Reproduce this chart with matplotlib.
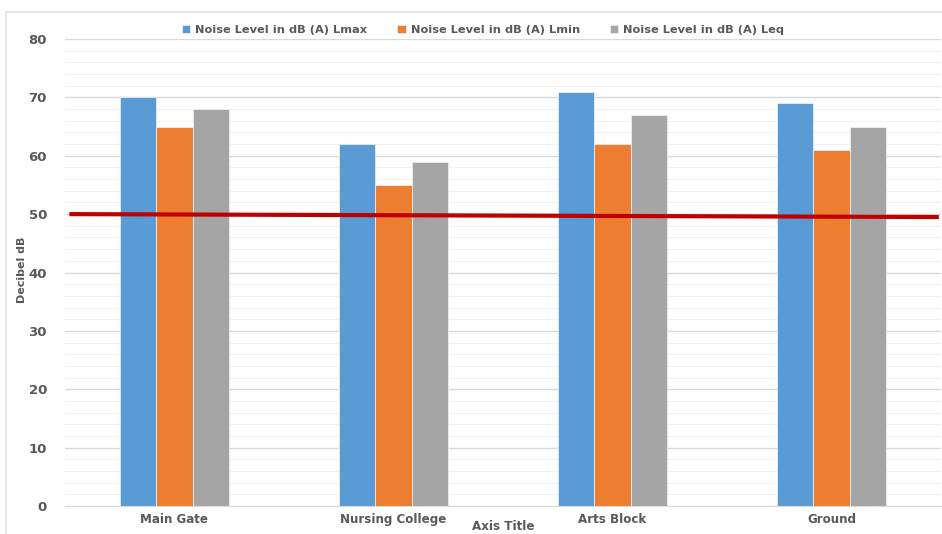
import matplotlib
matplotlib.use('Agg')
import matplotlib.pyplot as plt
import numpy as np
from matplotlib.patches import Rectangle

# noise survey data
sites = ["Main Gate", "Nursing College", "Arts Block", "Ground"]
lmax = [70, 62, 71, 69]
lmin = [65, 55, 62, 61]
leq = [68, 59, 67, 65]
series_names = ["Noise Level in dB (A) Lmax",
                "Noise Level in dB (A) Lmin",
                "Noise Level in dB (A) Leq"]
colors = ["#5B9BD5", "#ED7D31", "#A5A5A5"]

# permissible limit line (hand drawn, slightly slanted)
limit_x = [-0.48, 3.49]
limit_y = [50.0, 49.5]

TXT = "#595959"
plt.rcParams['font.family'] = 'DejaVu Sans'

fig = plt.figure(figsize=(9.42, 5.34), dpi=100)
ax = fig.add_axes([65/942, 1-506/534, 876/942, 467/534])

# chart frame
fig.patches.append(Rectangle((6/942, -0.1), 1.2, 1-12/534+0.1, transform=fig.transFigure,
                             fill=False, edgecolor="#E3E3E3", linewidth=1.2, zorder=0))

x = np.arange(len(sites))
w = 1/6
for i, (vals, name, c) in enumerate(zip([lmax, lmin, leq], series_names, colors)):
    ax.bar(x + (i-1)*w, vals, width=w, color=c, edgecolor="#E8EEF5", linewidth=0.6,
           label=name, zorder=2)

ax.plot(limit_x, limit_y, color="#C00000", linewidth=3.0, zorder=3, solid_capstyle='butt')

ax.set_xlim(-0.5, 3.5)
ax.set_ylim(0, 80)
ax.set_yticks(np.arange(0, 81, 10))
ax.set_yticks(np.arange(0, 81, 2), minor=True)
ax.grid(True, which='major', axis='y', color="#D9D9D9", linewidth=1.0, zorder=0)
ax.grid(True, which='minor', axis='y', color="#F0F0F0", linewidth=0.8, zorder=0)
ax.set_axisbelow(True)
for s in ['top', 'right', 'left']:
    ax.spines[s].set_visible(False)
ax.spines['bottom'].set_color("#D9D9D9")
ax.tick_params(axis='both', which='both', length=0)
ax.tick_params(axis='y', pad=13)
ax.tick_params(axis='x', pad=5)
ax.set_xticks(x)
ax.set_xticklabels(sites, fontsize=8.6, fontweight='bold', color=TXT)
for lab in ax.get_yticklabels():
    lab.set_fontsize(9.5)
    lab.set_fontweight('bold')
    lab.set_color(TXT)

fig.text(22/942, 1-270/534, "Decibel dB", rotation=90, ha='center', va='center',
         fontsize=8, fontweight='bold', color=TXT)
fig.text(503/942, 1/534, "Axis Title", ha='center', va='bottom',
         fontsize=8.6, fontweight='bold', color=TXT)

fig.legend(loc='center', bbox_to_anchor=(483/942, 1-30/534), ncol=3, frameon=False,
           prop={'size': 8.2, 'weight': 'bold'}, labelcolor=TXT, handlelength=0.75,
           handleheight=0.75, handletextpad=0.45, columnspacing=2.6)

fig.savefig("out.png", dpi=100)
